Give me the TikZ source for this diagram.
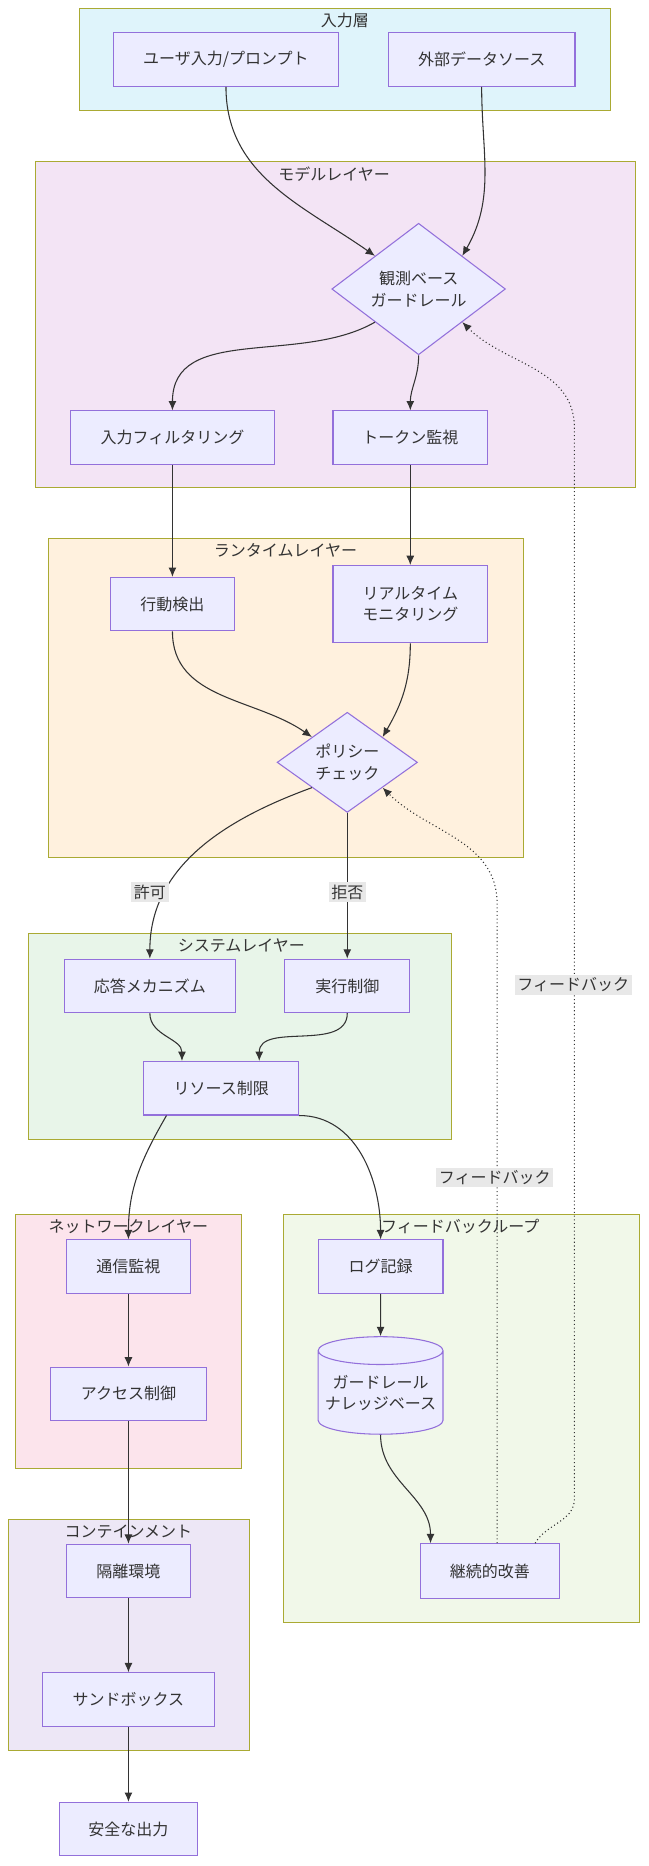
\documentclass[tikz,border=0pt]{standalone}
\usepackage{fontspec}
\setmainfont{Noto Sans CJK JP}
\usetikzlibrary{shapes.geometric,calc,arrows.meta}
\definecolor{nf}{HTML}{ECECFF}
\definecolor{nb}{HTML}{9370DB}
\definecolor{lb}{HTML}{AAAA33}
\tikzset{
  box/.style={draw=nb,fill=nf,line width=0.8pt,align=center,font=\fontsize{12}{16}\selectfont,text=black!80,inner sep=0pt},
  dia/.style={box,diamond,aspect=1},
  layer/.style={draw=lb,line width=0.8pt},
  ltitle/.style={font=\fontsize{12}{15}\selectfont,text=black!80},
  e/.style={draw=black!80,line width=0.8pt,-{Latex[length=7pt,width=6pt]}},
  fb/.style={e,dotted},
  lab/.style={fill=black!9,font=\fontsize{12}{15}\selectfont,text=black!80,inner sep=2pt},
}
\newcommand\bx[6]{\node[box,minimum width=#4*0.8918pt,minimum height=#5*0.8918pt] (#1) at (#2,#3) {#6};}
\begin{document}
\begin{tikzpicture}[x=0.8918pt,y=-0.8918pt]
\useasboundingbox (0,0) rectangle (545,1569);
% layers
\draw[layer,fill={rgb,255:red,223;green,244;blue,251}] (67,7) rectangle (513,93);
\node[ltitle] at (290,17) {入力層};
\draw[layer,fill={rgb,255:red,243;green,228;blue,245}] (30,136) rectangle (534,410);
\node[ltitle] at (281,146) {モデルレイヤー};
\draw[layer,fill={rgb,255:red,255;green,241;blue,222}] (41,453) rectangle (440,721);
\node[ltitle] at (240,463) {ランタイムレイヤー};
\draw[layer,fill={rgb,255:red,232;green,245;blue,233}] (24,785) rectangle (380,958);
\node[ltitle] at (203,795) {システムレイヤー};
\draw[layer,fill={rgb,255:red,252;green,228;blue,236}] (13,1021) rectangle (203,1235);
\node[ltitle] at (108,1031) {ネットワークレイヤー};
\draw[layer,fill={rgb,255:red,241;green,248;blue,233}] (238,1021) rectangle (538,1364);
\node[ltitle] at (387,1031) {フィードバックループ};
\draw[layer,fill={rgb,255:red,237;green,231;blue,246}] (7,1278) rectangle (210,1472);
\node[ltitle] at (108,1288) {コンテインメント};
% nodes
\bx{u}{190}{50}{189}{45}{ユーザ入力/プロンプト}
\bx{ext}{405}{50}{157}{45}{外部データソース}
\node[dia,minimum width=146*0.8918pt] (g) at (352,243) {観測ベース\\ガードレール};
\bx{filt}{145}{368}{171}{45}{入力フィルタリング}
\bx{tok}{345}{368}{130}{45}{トークン監視}
\bx{act}{145}{508}{104}{45}{行動検出}
\bx{rt}{345}{508}{130}{65}{リアルタイム\\モニタリング}
\node[dia,minimum width=118*0.8918pt] (p) at (292,641) {ポリシー\\チェック};
\bx{resp}{126}{829}{144}{45}{応答メカニズム}
\bx{exe}{292}{829}{105}{45}{実行制御}
\bx{lim}{186}{915}{130}{45}{リソース制限}
\bx{comm}{108}{1065}{104}{45}{通信監視}
\bx{acc}{108}{1172}{131}{45}{アクセス制御}
\bx{log}{320}{1065}{105}{45}{ログ記録}
\node[box,cylinder,shape border rotate=90,aspect=0.25,minimum width=105*0.8918pt,minimum height=82*0.8918pt] (kb) at (320,1171) {ガードレール\\ナレッジベース};
\bx{imp}{412}{1321}{117}{46}{継続的改善}
\bx{iso}{108}{1321}{104}{45}{隔離環境}
\bx{sand}{108}{1429}{144}{45}{サンドボックス}
\bx{out}{108}{1538}{116}{45}{安全な出力}
% edges
\draw[e] (u.south) to[out=-90,in=145] (g.north west);
\draw[e] (ext.south) to[out=-90,in=60] (g.north east);
\draw[e] (g.south west) to[out=210,in=90] (filt.north);
\draw[e] (g.south) to[out=-90,in=90] (tok.north);
\draw[e] (filt) -- (act);
\draw[e] (tok) -- (rt);
\draw[e] (act.south) to[out=-90,in=145] (p.north west);
\draw[e] (rt.south) to[out=-90,in=60] (p.north east);
\draw[e] (p.south west) to[out=200,in=90] (resp.north);
\node[lab] at (126,750) {許可};
\draw[e] (p.south) -- (exe.north);
\node[lab] at (292,750) {拒否};
\draw[e] (resp.south) to[out=-90,in=90] ($(lim.north)+(-33,0)$);
\draw[e] (exe.south) to[out=-90,in=90] ($(lim.north)+(32,0)$);
\draw[e] ($(lim.south)+(-46,0)$) to[out=-120,in=90] (comm.north);
\draw[e] (lim.south east) to[out=0,in=90] (log.north);
\draw[e] (comm) -- (acc);
\draw[e] (acc) -- (iso);
\draw[e] (iso) -- (sand);
\draw[e] (sand) -- (out);
\draw[e] (log) -- (kb);
\draw[e] (kb.south) to[out=-90,in=90] ($(imp.north)+(-50,0)$);
\draw[fb] ($(imp.north)+(6,0)$) to[out=90,in=-90] (418,1260) -- (418,760) to[out=90,in=-45] (p.south east);
\node[lab] at (416,990) {フィードバック};
\draw[fb] ($(imp.north)+(38,0)$) to[out=60,in=-90] (483,1260) -- (483,360) to[out=90,in=-45] (g.south east);
\node[lab] at (482,828) {フィードバック};
\end{tikzpicture}
\end{document}
